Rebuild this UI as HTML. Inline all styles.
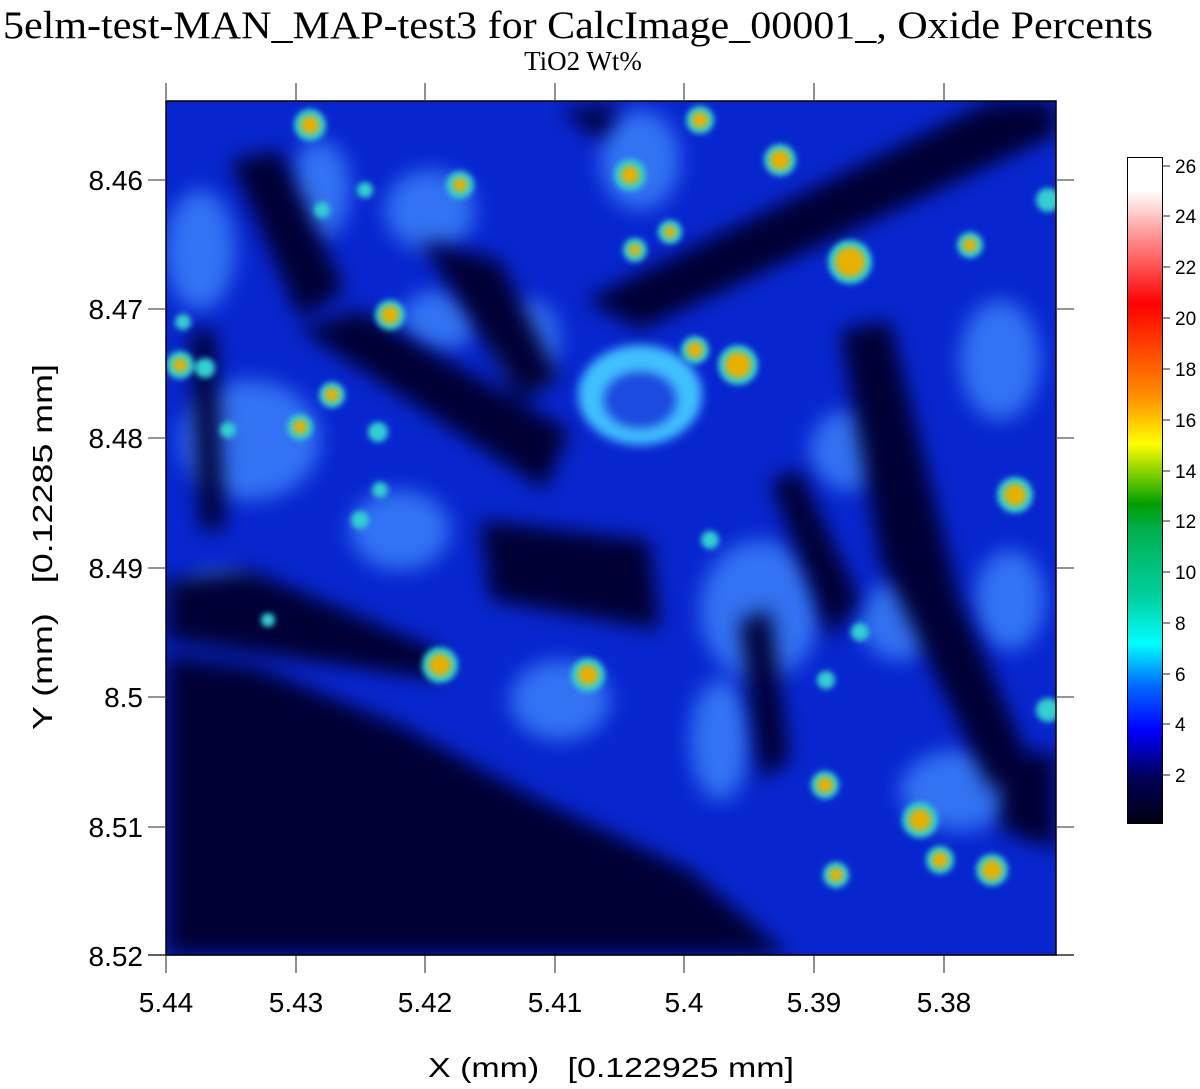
<!DOCTYPE html>
<html><head><meta charset="utf-8"><style>
html,body{margin:0;padding:0;background:#fff;width:1200px;height:1089px;overflow:hidden}
</style></head><body>
<svg width="1200" height="1089" viewBox="0 0 1200 1089" xmlns="http://www.w3.org/2000/svg">
<defs>
<linearGradient id="cb" x1="0" y1="1" x2="0" y2="0">
<stop offset="0" stop-color="#000010"/>
<stop offset="0.07" stop-color="#00005a"/>
<stop offset="0.14" stop-color="#0000ff"/>
<stop offset="0.21" stop-color="#0070ff"/>
<stop offset="0.27" stop-color="#00ffff"/>
<stop offset="0.34" stop-color="#00d0a0"/>
<stop offset="0.44" stop-color="#00b050"/>
<stop offset="0.48" stop-color="#00a000"/>
<stop offset="0.57" stop-color="#ffff00"/>
<stop offset="0.64" stop-color="#ff9000"/>
<stop offset="0.78" stop-color="#ff0000"/>
<stop offset="0.88" stop-color="#ff9090"/>
<stop offset="0.95" stop-color="#ffffff"/>
<stop offset="1" stop-color="#ffffff"/>
</linearGradient>
<filter id="b1" x="-20%" y="-20%" width="140%" height="140%"><feGaussianBlur stdDeviation="10"/></filter>
<filter id="b2" x="-50%" y="-50%" width="200%" height="200%"><feGaussianBlur stdDeviation="5"/></filter>
<filter id="b3" x="-50%" y="-50%" width="200%" height="200%"><feGaussianBlur stdDeviation="3"/></filter>
<clipPath id="pc"><rect x="166" y="101" width="890" height="854"/></clipPath>
</defs>
<g clip-path="url(#pc)">
<rect x="166" y="101" width="890" height="854" fill="#0826d0"/>
<g filter="url(#b1)" fill="#3f8cff" opacity="0.75">
<ellipse cx="200" cy="250" rx="35" ry="60"/>
<ellipse cx="430" cy="210" rx="45" ry="40"/>
<ellipse cx="250" cy="440" rx="70" ry="60"/>
<ellipse cx="440" cy="320" rx="40" ry="30"/>
<ellipse cx="530" cy="340" rx="30" ry="40"/>
<ellipse cx="400" cy="530" rx="50" ry="40"/>
<ellipse cx="560" cy="700" rx="50" ry="40"/>
<ellipse cx="760" cy="610" rx="60" ry="70"/>
<ellipse cx="900" cy="620" rx="40" ry="40"/>
<ellipse cx="1000" cy="360" rx="40" ry="60"/>
<ellipse cx="1010" cy="600" rx="35" ry="50"/>
<ellipse cx="960" cy="790" rx="60" ry="40"/>
<ellipse cx="640" cy="160" rx="40" ry="50"/>
<ellipse cx="320" cy="190" rx="30" ry="50"/>
<ellipse cx="720" cy="740" rx="30" ry="60"/>
<ellipse cx="220" cy="600" rx="40" ry="30"/>
<ellipse cx="850" cy="450" rx="40" ry="40"/>
</g>
<g filter="url(#b1)" fill="#000035">
<polygon points="166,655 260,668 400,725 540,800 690,870 790,955 166,955"/>
<polygon points="585,300 990,101 1056,101 1056,135 640,330"/>
<polygon points="300,330 360,310 570,430 545,490"/>
<polygon points="230,160 280,150 345,290 300,320"/>
<polygon points="190,330 215,330 225,530 200,530"/>
<polygon points="480,520 650,540 660,630 490,600"/>
<polygon points="840,330 890,320 960,600 1030,760 990,790 880,560"/>
<polygon points="770,480 800,470 860,600 830,640"/>
<polygon points="420,240 500,260 560,380 520,400"/>
<polygon points="560,110 620,105 600,140"/>
<polygon points="740,620 770,610 790,760 760,780"/>
<polygon points="1000,760 1056,750 1056,850 1000,830"/>
<polygon points="166,580 250,570 440,650 440,680 166,640"/>
</g>
<g filter="url(#b2)">
<ellipse cx="640" cy="395" rx="62" ry="50" fill="#40c0ff"/>
<ellipse cx="640" cy="400" rx="38" ry="30" fill="#1a4ce0"/>
</g>
<g filter="url(#b3)" fill="#30d0d0">
<circle cx="310" cy="125" r="16"/><circle cx="460" cy="185" r="14"/><circle cx="630" cy="175" r="16"/>
<circle cx="780" cy="160" r="16"/><circle cx="850" cy="262" r="22"/><circle cx="970" cy="245" r="13"/>
<circle cx="390" cy="315" r="15"/><circle cx="695" cy="350" r="14"/><circle cx="738" cy="365" r="20"/>
<circle cx="332" cy="395" r="13"/><circle cx="300" cy="427" r="13"/><circle cx="1015" cy="495" r="18"/>
<circle cx="440" cy="665" r="18"/><circle cx="588" cy="675" r="17"/><circle cx="920" cy="820" r="18"/>
<circle cx="992" cy="870" r="16"/><circle cx="836" cy="875" r="13"/><circle cx="825" cy="785" r="14"/>
<circle cx="1048" cy="200" r="12"/><circle cx="1048" cy="710" r="12"/><circle cx="700" cy="120" r="14"/>
<circle cx="180" cy="365" r="14"/><circle cx="205" cy="368" r="10"/><circle cx="378" cy="432" r="10"/>
<circle cx="360" cy="520" r="9"/><circle cx="710" cy="540" r="9"/><circle cx="635" cy="250" r="12"/>
<circle cx="670" cy="232" r="12"/><circle cx="940" cy="860" r="14"/><circle cx="826" cy="680" r="9"/>
<circle cx="860" cy="632" r="9"/><circle cx="183" cy="322" r="8"/><circle cx="228" cy="430" r="8"/>
<circle cx="322" cy="210" r="8"/><circle cx="365" cy="190" r="8"/><circle cx="380" cy="490" r="8"/>
<circle cx="268" cy="620" r="7"/>
</g>
<g filter="url(#b3)" fill="#e8b000">
<circle cx="310" cy="125" r="9"/><circle cx="460" cy="185" r="7"/><circle cx="630" cy="175" r="9"/>
<circle cx="780" cy="160" r="10"/><circle cx="850" cy="262" r="15"/><circle cx="970" cy="245" r="7"/>
<circle cx="390" cy="315" r="9"/><circle cx="695" cy="350" r="8"/><circle cx="738" cy="365" r="13"/>
<circle cx="332" cy="395" r="7"/><circle cx="300" cy="427" r="7"/><circle cx="1015" cy="495" r="11"/>
<circle cx="440" cy="665" r="11"/><circle cx="588" cy="675" r="10"/><circle cx="920" cy="820" r="11"/>
<circle cx="992" cy="870" r="10"/><circle cx="836" cy="875" r="7"/><circle cx="825" cy="785" r="8"/>
<circle cx="700" cy="120" r="8"/><circle cx="180" cy="365" r="7"/><circle cx="635" cy="250" r="6"/>
<circle cx="670" cy="232" r="6"/><circle cx="940" cy="860" r="8"/>
</g>
</g>
<rect x="166" y="101" width="890" height="854" fill="none" stroke="#000" stroke-width="1.5"/>
<g stroke="#555" stroke-width="1.3">
<line x1="166" y1="83" x2="166" y2="101"/><line x1="296" y1="83" x2="296" y2="101"/><line x1="425" y1="83" x2="425" y2="101"/><line x1="555" y1="83" x2="555" y2="101"/><line x1="684" y1="83" x2="684" y2="101"/><line x1="814" y1="83" x2="814" y2="101"/><line x1="944" y1="83" x2="944" y2="101"/>
<line x1="166" y1="955" x2="166" y2="973"/><line x1="296" y1="955" x2="296" y2="973"/><line x1="425" y1="955" x2="425" y2="973"/><line x1="555" y1="955" x2="555" y2="973"/><line x1="684" y1="955" x2="684" y2="973"/><line x1="814" y1="955" x2="814" y2="973"/><line x1="944" y1="955" x2="944" y2="973"/>
<line x1="148" y1="180" x2="166" y2="180"/><line x1="148" y1="309" x2="166" y2="309"/><line x1="148" y1="438" x2="166" y2="438"/><line x1="148" y1="568" x2="166" y2="568"/><line x1="148" y1="697" x2="166" y2="697"/><line x1="148" y1="827" x2="166" y2="827"/>
<line x1="1056" y1="180" x2="1074" y2="180"/><line x1="1056" y1="309" x2="1074" y2="309"/><line x1="1056" y1="438" x2="1074" y2="438"/><line x1="1056" y1="568" x2="1074" y2="568"/><line x1="1056" y1="697" x2="1074" y2="697"/><line x1="1056" y1="827" x2="1074" y2="827"/>
</g>
<line x1="148" y1="955" x2="1074" y2="955" stroke="#000" stroke-width="1.3"/>
<text x="3" y="38" font-family="Liberation Serif, serif" font-size="39" textLength="1150" lengthAdjust="spacingAndGlyphs">5elm-test-MAN_MAP-test3 for CalcImage_00001_, Oxide Percents</text>
<text x="583" y="70" font-family="Liberation Serif, serif" font-size="27" text-anchor="middle">TiO2 Wt%</text>
<g font-family="Liberation Sans, sans-serif" font-size="28" text-anchor="end">
<text x="143" y="190">8.46</text><text x="143" y="319">8.47</text><text x="143" y="448">8.48</text><text x="143" y="578">8.49</text><text x="143" y="707">8.5</text><text x="143" y="837">8.51</text><text x="143" y="966">8.52</text>
</g>
<g font-family="Liberation Sans, sans-serif" font-size="28" text-anchor="middle">
<text x="166" y="1012">5.44</text><text x="296" y="1012">5.43</text><text x="425" y="1012">5.42</text><text x="555" y="1012">5.41</text><text x="684" y="1012">5.4</text><text x="814" y="1012">5.39</text><text x="944" y="1012">5.38</text>
</g>
<text x="428" y="1077" font-family="Liberation Sans, sans-serif" font-size="28" textLength="366" lengthAdjust="spacingAndGlyphs">X (mm)&#160;&#160;&#160;[0.122925 mm]</text>
<text transform="translate(52,364) rotate(-90)" font-family="Liberation Sans, sans-serif" font-size="28" text-anchor="end" textLength="366" lengthAdjust="spacingAndGlyphs" x="0" y="0">Y (mm)&#160;&#160;&#160;[0.12285 mm]</text>
<rect x="1127.5" y="157.5" width="35" height="666" fill="url(#cb)" stroke="#000" stroke-width="1"/>
<g stroke="#555" stroke-width="1.3">
<line x1="1163" y1="166" x2="1170" y2="166"/><line x1="1163" y1="216" x2="1170" y2="216"/><line x1="1163" y1="267" x2="1170" y2="267"/><line x1="1163" y1="318" x2="1170" y2="318"/><line x1="1163" y1="369" x2="1170" y2="369"/><line x1="1163" y1="420" x2="1170" y2="420"/><line x1="1163" y1="471" x2="1170" y2="471"/><line x1="1163" y1="521" x2="1170" y2="521"/><line x1="1163" y1="572" x2="1170" y2="572"/><line x1="1163" y1="623" x2="1170" y2="623"/><line x1="1163" y1="674" x2="1170" y2="674"/><line x1="1163" y1="724" x2="1170" y2="724"/><line x1="1163" y1="775" x2="1170" y2="775"/>
</g>
<g font-family="Liberation Sans, sans-serif" font-size="19">
<text x="1175" y="173">26</text><text x="1175" y="223">24</text><text x="1175" y="274">22</text><text x="1175" y="325">20</text><text x="1175" y="376">18</text><text x="1175" y="427">16</text><text x="1175" y="478">14</text><text x="1175" y="528">12</text><text x="1175" y="579">10</text><text x="1175" y="630">8</text><text x="1175" y="681">6</text><text x="1175" y="731">4</text><text x="1175" y="782">2</text>
</g>
</svg>
</body></html>
